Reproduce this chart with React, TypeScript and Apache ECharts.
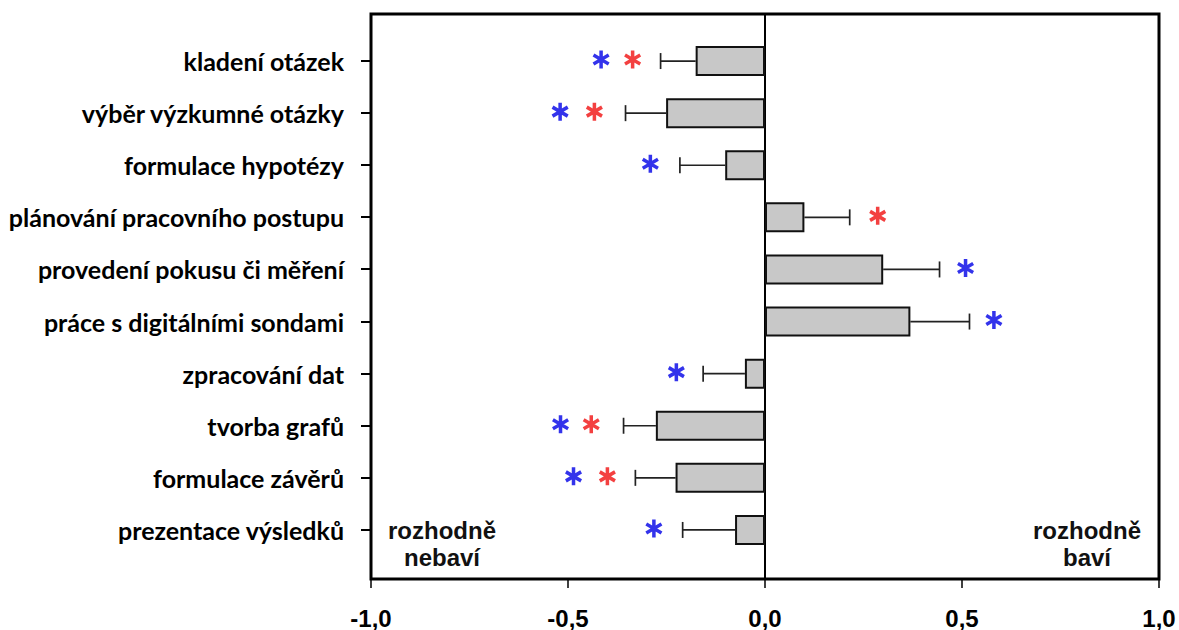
import React, { useEffect, useRef } from "react";
import * as echarts from "echarts";

const categories = [
  "kladení otázek",
  "výběr výzkumné otázky",
  "formulace hypotézy",
  "plánování pracovního postupu",
  "provedení pokusu či měření",
  "práce s digitálními sondami",
  "zpracování dat",
  "tvorba grafů",
  "formulace závěrů",
  "prezentace výsledků",
];
const means = [-0.176, -0.251, -0.101, 0.1, 0.3, 0.369, -0.051, -0.277, -0.227, -0.076];
const errors = [0.089, 0.103, 0.115, 0.115, 0.143, 0.15, 0.106, 0.082, 0.102, 0.133];
const blueStarX = [-0.416, -0.52, -0.291, null, 0.509, 0.581, -0.225, -0.519, -0.486, -0.282];
const redStarX = [-0.336, -0.433, null, 0.286, null, null, null, -0.441, -0.4, null];
const xTicks = [-1, -0.5, 0, 0.5, 1];
const leftNote = "rozhodně\nnebaví";
const rightNote = "rozhodně\nbaví";

const STAR =
  "path://M-2,-10L2,-10L2,10L-2,10Z M7.66,-6.732L9.66,-3.268L-7.66,6.732L-9.66,3.268Z M-9.66,-3.268L-7.66,-6.732L9.66,3.268L7.66,6.732Z";

export default function App() {
  const ref = useRef<HTMLDivElement>(null);
  useEffect(() => {
    document.body.style.margin = "0";
    const chart = echarts.init(ref.current!, null, { renderer: "svg" });
    const L = 371,
      R = 20;
    const noteStyle = (text: string) => ({
      text,
      align: "center",
      verticalAlign: "top",
      lineHeight: 27,
      font: 'bold 24px "Liberation Sans", Arial, sans-serif',
      fill: "#111",
    });
    const notes = [
      { type: "text", x: 442, y: 517, style: noteStyle(leftNote) },
      { type: "text", x: 1087, y: 517, style: noteStyle(rightNote) },
    ];
    const option: any = {
      animation: false,
      backgroundColor: "#ffffff",
      grid: [
        { left: L, right: R, top: 14, bottom: 49, show: true, borderColor: "#000", borderWidth: 3, backgroundColor: "transparent" },
        { left: L, right: R, top: 35, bottom: 74 },
      ],
      xAxis: [
        {
          gridIndex: 0,
          type: "value",
          min: xTicks[0],
          max: xTicks[xTicks.length - 1],
          interval: 0.5,
          axisLine: { show: false },
          axisTick: { show: true, inside: false, length: 9, lineStyle: { color: "#000", width: 1.5 } },
          splitLine: { show: false },
          axisLabel: {
            margin: 27,
            color: "#000",
            fontFamily: "Liberation Sans, Arial, sans-serif",
            fontWeight: "bold",
            fontSize: 24,
            formatter: (v: number) => v.toFixed(1).replace(".", ","),
          },
        },
        { gridIndex: 1, type: "value", min: -1, max: 1, show: false },
      ],
      yAxis: [
        {
          gridIndex: 0,
          type: "value",
          min: 0,
          max: 1,
          axisLine: { show: true, onZero: true, lineStyle: { color: "#000", width: 2 } },
          axisTick: { show: false },
          axisLabel: { show: false },
          splitLine: { show: false },
        },
        {
          gridIndex: 1,
          type: "category",
          inverse: true,
          data: categories,
          axisLine: { show: false, onZero: false },
          axisTick: { show: false },
          axisLabel: {
            margin: 27,
            color: "#000",
            fontFamily: "Lato, sans-serif",
            fontWeight: "bold",
            fontSize: 25,
          },
        },
      ],
      series: [
        {
          type: "bar",
          xAxisIndex: 1,
          yAxisIndex: 1,
          data: means,
          barWidth: 30,
          itemStyle: { color: "#c8c8c8", borderColor: "#111", borderWidth: 2 },
          z: 3,
        },
        {
          type: "custom",
          xAxisIndex: 1,
          yAxisIndex: 1,
          data: means.map((m, i) => [m, i, errors[i]]),
          encode: { x: 0, y: 1 },
          z: 2,
          renderItem: (params: any, api: any) => {
            const v = api.value(0);
            const idx = api.value(1);
            const e = api.value(2);
            const end = v + (v >= 0 ? e : -e);
            const p0 = api.coord([v, idx]);
            const p1 = api.coord([end, idx]);
            const st = { stroke: "#222", lineWidth: 1.7 };
            return {
              type: "group",
              children: [
                { type: "line", shape: { x1: p0[0], y1: p0[1], x2: p1[0], y2: p1[1] }, style: st },
                { type: "line", shape: { x1: p1[0], y1: p1[1] - 8, x2: p1[0], y2: p1[1] + 8 }, style: st },
              ],
            };
          },
        },
        {
          type: "scatter",
          xAxisIndex: 1,
          yAxisIndex: 1,
          symbol: STAR,
          symbolSize: [17, 18],
          symbolOffset: [0, -1.5],
          itemStyle: { color: "#0000e6" },
          data: blueStarX.map((x, i) => (x === null ? null : [x, i])).filter((d) => d !== null),
          z: 4,
        },
        {
          type: "scatter",
          xAxisIndex: 1,
          yAxisIndex: 1,
          symbol: STAR,
          symbolSize: [17, 18],
          symbolOffset: [0, -1.5],
          itemStyle: { color: "#f01010" },
          data: redStarX.map((x, i) => (x === null ? null : [x, i])).filter((d) => d !== null),
          z: 4,
        },
      ],
      graphic: notes,
    };
    chart.setOption(option);

    // category tick marks just outside the left frame, placed via the axis scale
    const ticks = categories.map((c, i) => {
      const p = chart.convertToPixel({ gridIndex: 1 } as any, [xTicks[0], i]) as number[];
      const y = Math.round(p[1]);
      return {
        type: "rect",
        shape: { x: p[0] - 10, y: y - 1, width: 10, height: 2 },
        style: { fill: "#000" },
        z: 10,
      };
    });
    chart.setOption({ graphic: [...notes, ...ticks] });
    return () => chart.dispose();
  }, []);
  return <div ref={ref} style={{ position: "absolute", left: 0, top: 0, width: 1179, height: 630 }} />;
}
